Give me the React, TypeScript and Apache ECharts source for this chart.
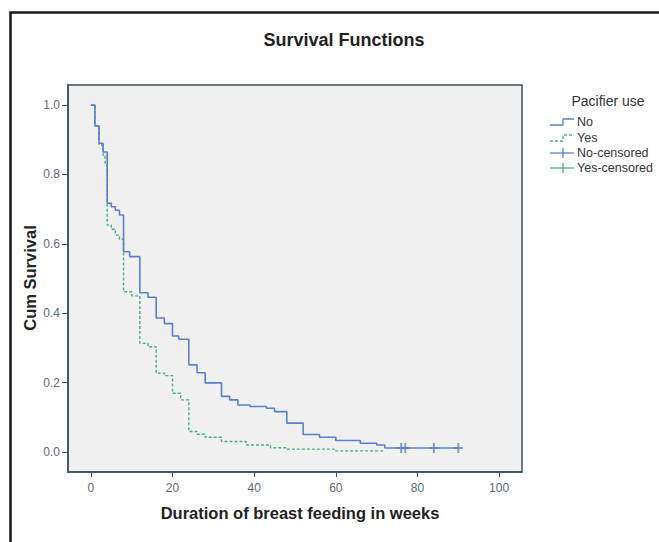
import React, { useEffect, useRef } from "react";
import * as echarts from "echarts";

// Kaplan-Meier curves
const noTimes = [0, 1, 2, 3, 4, 5, 6, 7, 8, 9.5, 12, 14, 16, 18, 20, 21.5, 24, 26, 28, 32, 34, 36, 39, 43, 45, 48, 52, 56, 60, 66, 70, 72, 90];
const noSurv = [1.0, 0.94, 0.89, 0.865, 0.717, 0.707, 0.697, 0.683, 0.577, 0.563, 0.459, 0.446, 0.386, 0.37, 0.334, 0.325, 0.251, 0.228, 0.199, 0.16, 0.15, 0.135, 0.131, 0.126, 0.116, 0.083, 0.05, 0.042, 0.033, 0.025, 0.02, 0.011, 0.011];

const yesTimes = [0, 1, 2, 3, 3.5, 4, 5, 6, 7, 8, 10, 12, 14, 16, 18, 20, 22, 24, 26, 28, 32, 38, 44, 48, 60, 72];
const yesSurv = [1.0, 0.94, 0.885, 0.855, 0.827, 0.654, 0.642, 0.625, 0.613, 0.462, 0.45, 0.313, 0.303, 0.227, 0.22, 0.169, 0.15, 0.059, 0.051, 0.042, 0.03, 0.02, 0.012, 0.008, 0.003, 0.003];

const noCensoredTimes = [76, 77, 84, 90];
const noCensoredSurv = [0.011, 0.011, 0.011, 0.011];

const xTicks = [0, 20, 40, 60, 80, 100];
const yTicks = [0, 0.2, 0.4, 0.6, 0.8, 1.0];

const legendLabels = ["No", "Yes", "No-censored", "Yes-censored"];

const BLUE = "#5a7fd2";
const GREEN = "#45b37a";

export default function App() {
  const ref = useRef<HTMLDivElement>(null);
  useEffect(() => {
    if (!ref.current) return;
    const chart = echarts.init(ref.current, null, { renderer: "svg" });
    const font = "Liberation Sans, Arial, sans-serif";
    const zip = (a: number[], b: number[]) => a.map((t, i) => [t, b[i]]);

    const legendX = 550;
    const legendRows = [122, 138, 153, 168];
    const legendGraphics: any[] = [];
    legendLabels.forEach((lab, i) => {
      const y = legendRows[i];
      const color = i % 2 === 0 ? BLUE : GREEN;
      if (i < 2) {
        legendGraphics.push({
          type: "polyline",
          shape: { points: [[legendX, y + 3], [legendX + 13, y + 3], [legendX + 13, y - 3], [legendX + 24, y - 3]] },
          style: { stroke: color, lineWidth: 1.3, fill: null, lineDash: i === 1 ? [3, 2] : null },
        });
      } else {
        legendGraphics.push({
          type: "line",
          shape: { x1: legendX, y1: y, x2: legendX + 24, y2: y },
          style: { stroke: color, lineWidth: 1.3 },
        });
        legendGraphics.push({
          type: "line",
          shape: { x1: legendX + 13, y1: y - 5, x2: legendX + 13, y2: y + 5 },
          style: { stroke: color, lineWidth: 1.3 },
        });
      }
      legendGraphics.push({
        type: "text",
        x: legendX + 27,
        y,
        style: { text: lab, fill: "#333", font: `12.5px ${font}`, align: "left", verticalAlign: "middle" },
      });
    });

    chart.setOption({
      animation: false,
      backgroundColor: "#ffffff",
      grid: {
        left: 68,
        top: 85,
        right: 137,
        bottom: 70,
        show: true,
        backgroundColor: "#f0f0f0",
        borderColor: "#3b4f5c",
        borderWidth: 1.5,
      },
      xAxis: {
        type: "value",
        min: -5.6,
        max: 105.6,
        axisLine: { show: true, onZero: false, lineStyle: { color: "#3b4f5c", width: 1.5 } },
        axisTick: { show: true, customValues: xTicks, length: 5, lineStyle: { color: "#3b4f5c" } },
        axisLabel: {
          customValues: xTicks,
          color: "#5f6973",
          fontSize: 12,
          fontFamily: font,
          margin: 10,
        },
        splitLine: { show: false },
      },
      yAxis: {
        type: "value",
        min: -0.058,
        max: 1.058,
        axisLine: { show: true, onZero: false, lineStyle: { color: "#3b4f5c", width: 1.5 } },
        axisTick: { show: true, customValues: yTicks, length: 6, lineStyle: { color: "#3b4f5c" } },
        axisLabel: {
          customValues: yTicks,
          color: "#5f6973",
          fontSize: 12,
          fontFamily: font,
          margin: 8,
          formatter: (v: number) => v.toFixed(1),
        },
        splitLine: { show: false },
      },
      series: [
        {
          name: "No",
          type: "line",
          step: "end",
          data: zip(noTimes, noSurv),
          symbol: "none",
          lineStyle: { color: BLUE, width: 1.6 },
          z: 3,
        },
        {
          name: "Yes",
          type: "line",
          step: "end",
          data: zip(yesTimes, yesSurv),
          symbol: "none",
          lineStyle: { color: GREEN, width: 1.4, type: [3, 2] },
          z: 2,
        },
        {
          name: "No-censored",
          type: "scatter",
          data: zip(noCensoredTimes, noCensoredSurv),
          symbol: "path://M4,0 H6 V10 H4 Z M0,4 H10 V6 H0 Z",
          symbolSize: [9, 10],
          itemStyle: { color: BLUE },
          z: 4,
        },
      ],
      graphic: [
        {
          type: "rect",
          shape: { x: 10.5, y: 12.5, width: 700, height: 600 },
          style: { fill: null, stroke: "#1a1a1a", lineWidth: 2.5 },
          silent: true,
        },
        {
          type: "text",
          x: 344,
          y: 40,
          style: { text: "Survival Functions", fill: "#222", font: `bold 18px ${font}`, align: "center", verticalAlign: "middle" },
        },
        {
          type: "text",
          x: 300,
          y: 513,
          style: { text: "Duration of breast feeding in weeks", fill: "#222", font: `bold 16.5px ${font}`, align: "center", verticalAlign: "middle" },
        },
        {
          type: "text",
          x: 30,
          y: 278,
          rotation: Math.PI / 2,
          style: { text: "Cum Survival", fill: "#222", font: `bold 16.5px ${font}`, align: "center", verticalAlign: "middle" },
        },
        {
          type: "text",
          x: 608,
          y: 101,
          style: { text: "Pacifier use", fill: "#333", font: `14px ${font}`, align: "center", verticalAlign: "middle" },
        },
        ...legendGraphics,
      ],
    });
    return () => chart.dispose();
  }, []);
  return <div ref={ref} style={{ position: "fixed", left: 0, top: 0, width: 659, height: 542 }} />;
}
